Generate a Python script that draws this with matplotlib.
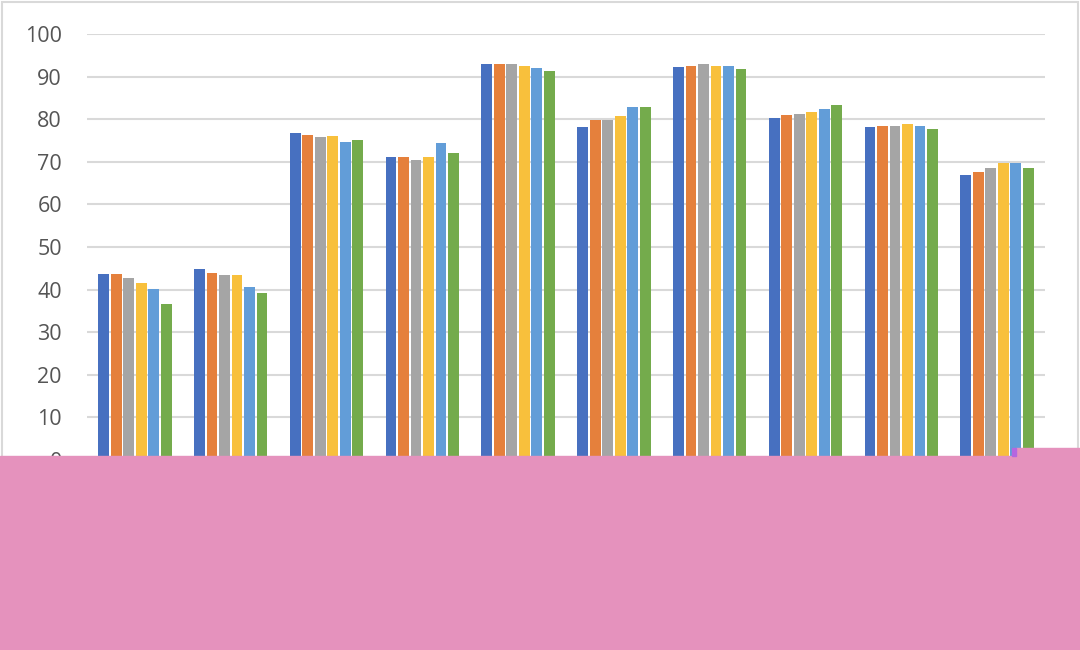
import numpy as np
import matplotlib
matplotlib.use('Agg')
from matplotlib import pyplot as plt
from matplotlib.patches import Rectangle

# values per group (10 groups), one list per series
s1 = [43.7, 44.8, 76.7, 71.1, 92.9, 78.1, 92.2, 80.2, 78.1, 66.8]
s2 = [43.7, 44.0, 76.4, 71.1, 92.9, 79.8, 92.5, 80.9, 78.5, 67.6]
s3 = [42.7, 43.4, 75.7, 70.4, 92.9, 79.8, 92.9, 81.3, 78.5, 68.6]
s4 = [41.5, 43.4, 76.0, 71.1, 92.5, 80.8, 92.5, 81.6, 78.8, 69.7]
s5 = [40.1, 40.5, 74.6, 74.3, 92.1, 82.9, 92.5, 82.3, 78.5, 69.7]
s6 = [36.6, 39.1, 75.0, 72.1, 91.4, 82.9, 91.8, 83.4, 77.8, 68.6]
series = [s1, s2, s3, s4, s5, s6]
colors = ['#4770C0', '#E5803C', '#A5A5A5', '#F8C03C', '#629DD8', '#74AB4C']
yticks = [0, 10, 20, 30, 40, 50, 60, 70, 80, 90, 100]

plt.rcParams['font.family'] = ['Open Sans', 'DejaVu Sans']

fig = plt.figure(figsize=(10.8, 6.5), dpi=100)
ax = fig.add_axes([87/1080, 1 - 459.9/650, (1045 - 87)/1080, (459.9 - 34)/650])

n = len(s1)
x = np.arange(n) + 0.5
slot = 0.1305
for j, (vals, c) in enumerate(zip(series, colors)):
    ax.bar(x + (j - 2.5) * slot, vals, width=0.112, color=c, zorder=3)

ax.set_xlim(0, n)
ax.set_ylim(0, 100)
ax.set_yticks(yticks)
ax.set_yticklabels([str(t) for t in yticks], fontsize=15.5, color='#555555')
ax.tick_params(axis='y', length=0, pad=18)
ax.set_xticks([])
ax.grid(axis='y', color='#D9D9D9', linewidth=1.5, zorder=0)
for sp in ax.spines.values():
    sp.set_visible(False)

# chart border
fig.patches.append(Rectangle((2/1080, 0), 1076/1080, 1 - 2/650, transform=fig.transFigure,
                             fill=False, edgecolor='#D9D9D9', linewidth=1.5, zorder=1))

# pink block covering the bottom
fig.patches.append(Rectangle((0, 0), 1, 1 - 455.7/650, transform=fig.transFigure,
                             color='#E592BD', zorder=10))
fig.patches.append(Rectangle((1016/1080, 0), 64/1080, 1 - 447.7/650, transform=fig.transFigure,
                             color='#E592BD', zorder=10))
fig.patches.append(Rectangle((1012/1080, 1 - 456/650), 4/1080, 8.3/650, transform=fig.transFigure,
                             color='#B566E0', zorder=10))

fig.savefig('out.png', dpi=100)
